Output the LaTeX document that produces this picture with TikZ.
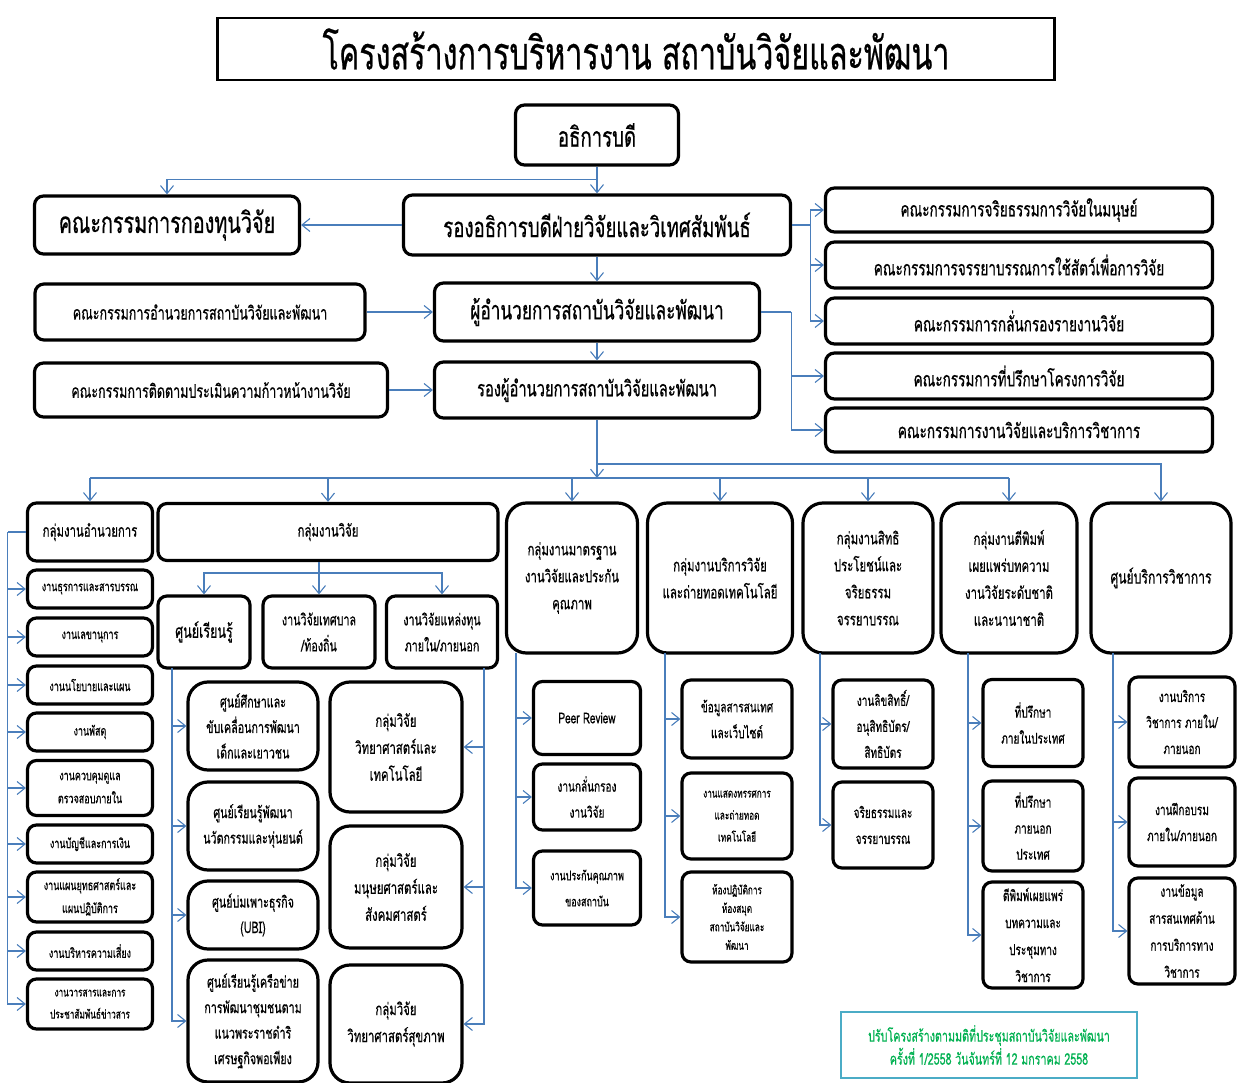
\documentclass[tikz,border=0pt]{standalone}
\usepackage{fontspec}
\setmainfont{Loma}[Script=Thai,FakeStretch=0.67,FakeBold=0.5]
\usetikzlibrary{arrows.meta}
\definecolor{lnk}{RGB}{74,126,187}
\definecolor{notebd}{RGB}{75,172,198}
\definecolor{notetx}{RGB}{0,176,80}
\newcommand\setfs[2]{\fontsize{#1}{#2}\selectfont}
\begin{document}
\begin{tikzpicture}[x=1pt,y=-1pt,
  box/.style={draw,line width=3.2pt,rounded corners=9pt,align=center,inner sep=1pt,fill=white},
  tallbox/.style={box,rounded corners=20pt},
  sz/.style 2 args={minimum width=#1,minimum height=#2},
  wire/.style={draw=lnk,line width=1.1pt},
  conn/.style={wire,-{Straight Barb[length=8pt,width=13pt]}},
  fa/.style={font=\setfs{13.4}{23}},
  fb/.style={font=\setfs{15}{26}},
  fc/.style={font=\setfs{17}{27}},
  fd/.style={font=\setfs{20.3}{22}}]
\useasboundingbox (0,0) rectangle (1237,1083);
% title
\node[draw,line width=2.5pt,sz={837}{62},font=\setfs{45.5}{48}] (title) at (636,49) {โครงสร้างการบริหารงาน สถาบันวิจัยและพัฒนา};
% top chain
\node[box,sz={163}{60},font=\setfs{27.8}{30}] (pres) at (597,135) {อธิการบดี};
\node[box,sz={265}{58},font=\setfs{29.5}{31}] (fund) at (167,225) {คณะกรรมการกองทุนวิจัย};
\node[box,sz={387}{60},font=\setfs{27.8}{30}] (vp) at (597,225) {รองอธิการบดีฝ่ายวิจัยและวิเทศสัมพันธ์};
\node[box,sz={325}{58},font=\setfs{25.7}{28}] (dir) at (597,312) {ผู้อำนวยการสถาบันวิจัยและพัฒนา};
\node[box,sz={330}{56},font=\setfs{18.7}{20}] (board) at (200,312) {คณะกรรมการอำนวยการสถาบันวิจัยและพัฒนา};
\node[box,sz={325}{56},font=\setfs{21.9}{23}] (vdir) at (597,390) {รองผู้อำนวยการสถาบันวิจัยและพัฒนา};
\node[box,sz={353}{54},font=\setfs{18.7}{20}] (monitor) at (211,390) {คณะกรรมการติดตามประเมินความก้าวหน้างานวิจัย};
% committees
\node[box,fd,sz={387}{44}] (c1) at (1019,210) {คณะกรรมการจริยธรรมการวิจัยในมนุษย์};
\node[box,fd,sz={387}{46}] (c2) at (1019,265) {คณะกรรมการจรรยาบรรณการใช้สัตว์เพื่อการวิจัย};
\node[box,fd,sz={387}{46}] (c3) at (1019,321) {คณะกรรมการกลั่นกรองรายงานวิจัย};
\node[box,fd,sz={387}{46}] (c4) at (1019,376) {คณะกรรมการที่ปรึกษาโครงการวิจัย};
\node[box,fd,sz={387}{44}] (c5) at (1019,430) {คณะกรรมการงานวิจัยและบริการวิชาการ};
% groups
\node[box,fc,sz={125}{58}] (g1) at (90,532) {กลุ่มงานอำนวยการ};
\node[box,fc,sz={340}{57}] (g2) at (328,532) {กลุ่มงานวิจัย};
\node[tallbox,fc,sz={131}{150}] (g3) at (572,578) {กลุ่มงานมาตรฐาน\\งานวิจัยและประกัน\\คุณภาพ};
\node[tallbox,fc,sz={145}{150}] (g4) at (720,578) {กลุ่มงานบริการวิจัย\\และถ่ายทอดเทคโนโลยี};
\node[tallbox,fc,sz={130}{150}] (g5) at (868,578) {กลุ่มงานสิทธิ\\ประโยชน์และ\\จริยธรรม\\จรรยาบรรณ};
\node[tallbox,fc,sz={136}{150}] (g6) at (1009,578) {กลุ่มงานตีพิมพ์\\เผยแพร่บทความ\\งานวิจัยระดับชาติ\\และนานาชาติ};
\node[tallbox,sz={140}{150},font=\setfs{18.2}{27}] (acad) at (1161,578) {ศูนย์บริการวิชาการ};
% admin items
\node[box,fa,sz={125}{38}] (a1) at (90,589) {งานธุรการและสารบรรณ};
\node[box,fa,sz={125}{38}] (a2) at (90,637) {งานเลขานุการ};
\node[box,fa,sz={125}{38}] (a3) at (90,685) {งานนโยบายและแผน};
\node[box,fa,sz={125}{38}] (a4) at (90,732) {งานพัสดุ};
\node[box,fa,sz={125}{55}] (a5) at (90,788) {งานควบคุมดูแล\\ตรวจสอบภายใน};
\node[box,fa,sz={125}{38}] (a6) at (90,844) {งานบัญชีและการเงิน};
\node[box,fa,sz={125}{50}] (a7) at (90,897) {งานแผนยุทธศาสตร์และ\\แผนปฏิบัติการ};
\node[box,fa,sz={125}{38}] (a8) at (90,951) {งานบริหารความเสี่ยง};
\node[box,sz={125}{50},font=\setfs{12.3}{22}] (a9) at (90,1004) {งานวารสารและการ\\ประชาสัมพันธ์ข่าวสาร};
% research sub
\node[box,sz={92}{72},font=\setfs{18.7}{26}] (r1) at (204,632) {ศูนย์เรียนรู้};
\node[box,sz={112}{72},font=\setfs{16}{26}] (r2) at (319,632) {งานวิจัยเทศบาล\\/ท้องถิ่น};
\node[box,sz={111}{72},font=\setfs{16}{26}] (r3) at (442,632) {งานวิจัยแหล่งทุน\\ภายใน/ภายนอก};
\node[tallbox,sz={130}{88},font=\setfs{16}{25.5}] (s1) at (253,726) {ศูนย์ศึกษาและ\\ขับเคลื่อนการพัฒนา\\เด็กและเยาวชน};
\node[tallbox,sz={130}{88},font=\setfs{16}{25.5}] (s2) at (253,826) {ศูนย์เรียนรู้พัฒนา\\นวัตกรรมและหุ่นยนต์};
\node[tallbox,sz={130}{68},font=\setfs{16}{25.5}] (s3) at (253,915) {ศูนย์บ่มเพาะธุรกิจ\\(UBI)};
\node[tallbox,sz={130}{122},font=\setfs{16}{25.5}] (s4) at (253,1021) {ศูนย์เรียนรู้เครือข่าย\\การพัฒนาชุมชนตาม\\แนวพระราชดำริ\\เศรษฐกิจพอเพียง};
\node[tallbox,fc,sz={132}{130}] (k1) at (396,747) {กลุ่มวิจัย\\วิทยาศาสตร์และ\\เทคโนโลยี};
\node[tallbox,fc,sz={132}{122}] (k2) at (396,887) {กลุ่มวิจัย\\มนุษยศาสตร์และ\\สังคมศาสตร์};
\node[tallbox,fc,sz={132}{118}] (k3) at (396,1024) {กลุ่มวิจัย\\วิทยาศาสตร์สุขภาพ};
% column 3
\node[box,fb,sz={107}{73}] (p1) at (587,718) {Peer Review};
\node[box,fb,sz={107}{66}] (p2) at (587,797) {งานกลั่นกรอง\\งานวิจัย};
\node[box,sz={107}{74},font=\setfs{13.4}{26}] (p3) at (587,888) {งานประกันคุณภาพ\\ของสถาบัน};
% column 4
\node[box,fb,sz={110}{78}] (q1) at (737,719) {ข้อมูลสารสนเทศ\\และเว็บไซต์};
\node[box,sz={110}{86},font=\setfs{12.3}{22}] (q2) at (737,816) {งานแสดงทรรศการ\\และถ่ายทอด\\เทคโนโลยี};
\node[box,sz={110}{90},font=\setfs{12.3}{18.5}] (q3) at (737,917) {ห้องปฏิบัติการ\\ห้องสมุด\\สถาบันวิจัยและ\\พัฒนา};
% column 5
\node[box,fb,sz={100}{88}] (t1) at (883,724) {งานลิขสิทธิ์/\\อนุสิทธิบัตร/\\สิทธิบัตร};
\node[box,fb,sz={100}{86}] (t2) at (883,825) {จริยธรรมและ\\จรรยาบรรณ};
% column 6
\node[box,fb,sz={100}{87}] (u1) at (1033,723) {ที่ปรึกษา\\ภายในประเทศ};
\node[box,fb,sz={100}{90}] (u2) at (1033,826) {ที่ปรึกษา\\ภายนอก\\ประเทศ};
\node[box,sz={100}{106},font=\setfs{15}{27}] (u3) at (1033,935) {ตีพิมพ์เผยแพร่\\บทความและ\\ประชุมทาง\\วิชาการ};
% column 7
\node[box,fb,sz={106}{90}] (v1) at (1182,722) {งานบริการ\\วิชาการ ภายใน/\\ภายนอก};
\node[box,fb,sz={106}{88}] (v2) at (1182,822) {งานฝึกอบรม\\ภายใน/ภายนอก};
\node[box,sz={106}{106},font=\setfs{15}{27}] (v3) at (1182,931) {งานข้อมูล\\สารสนเทศด้าน\\การบริการทาง\\วิชาการ};
% note
\node[draw=notebd,line width=1.6pt,sz={296}{66},align=center,text=notetx,font=\setfs{16}{23}] (note) at (989,1045) {ปรับโครงสร้างตามมติที่ประชุมสถาบันวิจัยและพัฒนา\\ครั้งที่ 1/2558 วันจันทร์ที่ 12 มกราคม 2558};
% connectors top
\draw[conn] (pres) -- (vp);
\draw[conn] (pres.south) -- ++(0,13) -| (fund.north);
\draw[conn] (vp.west) -- (fund.east);
\draw[conn] (vp) -- (dir);
\draw[conn] (dir) -- (vdir);
\draw[conn] (board.east) -- (dir.west);
\draw[conn] (monitor.east) -- (vdir.west);
\draw[wire] (vp.east) -- ++(18,0) coordinate (vpb);
\draw[conn] (vpb) |- (c1.west);
\draw[conn] (vpb) |- (c2.west);
\draw[conn] (vpb) |- (c3.west);
\draw[wire] (dir.east) -- ++(30,0) coordinate (dirb);
\draw[conn] (dirb) |- (c4.west);
\draw[conn] (dirb) |- (c5.west);
% main bus
\coordinate (busc) at (597,478);
\coordinate (up) at (597,464);
\draw[conn] (vdir.south) -- (busc);
\draw[conn] (up) -| (acad.north);
\draw[wire] (g1.north |- busc) -- (g6.north |- busc);
\foreach \n in {g1,g2,g3,g4,g5,g6} \draw[conn] (\n.north |- busc) -- (\n.north);
% admin bus
\draw[wire] (g1.west) -- ++(-18,0) coordinate (lb);
\foreach \n in {a1,a2,a3,a4,a5,a6,a7,a8,a9} \draw[conn] (lb) |- (\n.west);
% research bus
\coordinate (rb) at (319,573);
\draw[conn] (g2.south -| r2.north) -- (r2.north);
\draw[conn] (rb) -| (r1.north);
\draw[conn] (rb) -| (r3.north);
\coordinate (sb) at (172,668);
\foreach \n in {s1,s2,s3,s4} \draw[conn] (sb) |- (\n.west);
\coordinate (kb) at (484,668);
\foreach \n in {k1,k2,k3} \draw[conn] (kb) |- (\n.east);
% column buses
\coordinate (pb) at (516,653);
\foreach \n in {p1,p2,p3} \draw[conn] (pb) |- (\n.west);
\coordinate (qb) at (665,653);
\foreach \n in {q1,q2,q3} \draw[conn] (qb) |- (\n.west);
\coordinate (tb) at (820,653);
\foreach \n in {t1,t2} \draw[conn] (tb) |- (\n.west);
\coordinate (ub) at (968,653);
\foreach \n in {u1,u2,u3} \draw[conn] (ub) |- (\n.west);
\coordinate (vb) at (1113,653);
\foreach \n in {v1,v2,v3} \draw[conn] (vb) |- (\n.west);
\end{tikzpicture}
\end{document}
